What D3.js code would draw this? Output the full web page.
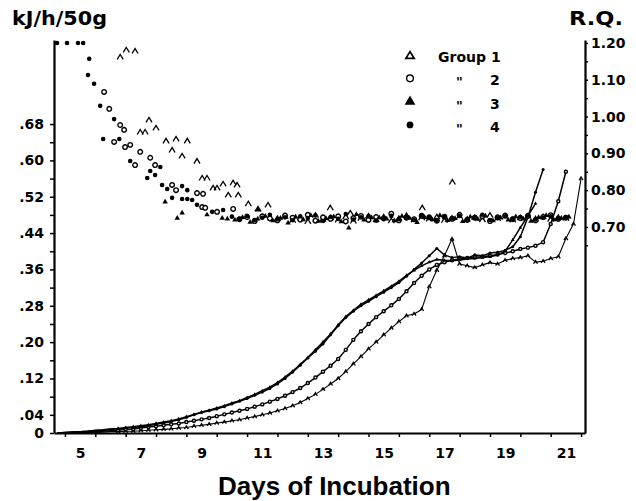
<!DOCTYPE html>
<html>
<head>
<meta charset="utf-8">
<script src="https://cdn.jsdelivr.net/npm/d3@7"></script>
<style>
  body { margin: 0; background: #fff; }
  text { font-family: "DejaVu Sans", sans-serif; font-weight: bold; fill: #000; }
</style>
</head>
<body>
<div id="chart"></div>
<script>
// days of incubation at which heat production was sampled (kJ/h/50g)
const days = [
  4.25, 4.5, 4.75, 5.0, 5.25, 5.5, 5.75, 6.0, 6.25, 6.5,
  6.75, 7.0, 7.25, 7.5, 7.75, 8.0, 8.25, 8.5, 8.75, 9.0,
  9.25, 9.5, 9.75, 10.0, 10.25, 10.5, 10.75, 11.0, 11.25, 11.5,
  11.75, 12.0, 12.25, 12.5, 12.75, 13.0, 13.25, 13.5, 13.75, 14.0,
  14.25, 14.5, 14.75, 15.0, 15.25, 15.5, 15.75, 16.0, 16.25, 16.5,
  16.75, 17.0, 17.25, 17.5, 17.75, 18.0, 18.25, 18.5, 18.75, 19.0,
  19.25, 19.5, 19.75, 20.0, 20.25, 20.5, 20.75, 21.0, 21.25, 21.5
]

const kjGroup1 = [
  0.000, 0.000, 0.001, 0.001, 0.002, 0.001, 0.002, 0.003, 0.003, 0.004,
  0.004, 0.005, 0.006, 0.007, 0.008, 0.009, 0.011, 0.012, 0.015, 0.017,
  0.019, 0.022, 0.024, 0.027, 0.029, 0.033, 0.036, 0.040, 0.044, 0.049,
  0.054, 0.060, 0.067, 0.076, 0.085, 0.096, 0.108, 0.120, 0.135, 0.152,
  0.168, 0.185, 0.200, 0.216, 0.231, 0.245, 0.258, 0.262, 0.272, 0.322,
  0.358, 0.390, 0.427, 0.372, 0.368, 0.364, 0.370, 0.375, 0.372, 0.380,
  0.384, 0.386, 0.390, 0.376, 0.378, 0.384, 0.388, 0.428, 0.460, 0.560
]
const kjGroup2 = [
  0.000, 0.000, 0.001, 0.002, 0.002, 0.003, 0.004, 0.005, 0.006, 0.008,
  0.009, 0.011, 0.013, 0.015, 0.017, 0.019, 0.021, 0.024, 0.027, 0.030,
  0.033, 0.037, 0.041, 0.045, 0.049, 0.053, 0.058, 0.063, 0.069, 0.075,
  0.082, 0.090, 0.099, 0.110, 0.122, 0.135, 0.148, 0.163, 0.183, 0.205,
  0.224, 0.240, 0.255, 0.268, 0.281, 0.295, 0.312, 0.330, 0.346, 0.360,
  0.370, 0.376, 0.380, 0.383, 0.385, 0.387, 0.388, 0.390, 0.393, 0.396,
  0.400, 0.405, 0.408, 0.412, 0.420, 0.460, 0.510, 0.575, null, null
]
const kjGroup3 = [
  0.000, 0.001, 0.002, 0.003, 0.004, 0.006, 0.007, 0.009, 0.010, 0.012,
  0.014, 0.016, 0.018, 0.021, 0.024, 0.027, 0.031, 0.036, 0.041, 0.046,
  0.050, 0.055, 0.060, 0.066, 0.071, 0.078, 0.085, 0.093, 0.101, 0.111,
  0.123, 0.136, 0.151, 0.166, 0.183, 0.200, 0.218, 0.238, 0.256, 0.270,
  0.283, 0.293, 0.303, 0.313, 0.323, 0.334, 0.347, 0.358, 0.368, 0.376,
  0.382, 0.380, 0.379, 0.381, 0.383, 0.384, 0.386, 0.388, 0.392, 0.400,
  0.425, 0.452, 0.478, 0.505, null, null, null, null, null, null
]
const kjGroup4 = [
  0.000, 0.001, 0.002, 0.003, 0.004, 0.005, 0.006, 0.008, 0.009, 0.011,
  0.012, 0.014, 0.016, 0.019, 0.022, 0.025, 0.029, 0.034, 0.040, 0.045,
  0.049, 0.053, 0.058, 0.064, 0.070, 0.076, 0.083, 0.090, 0.098, 0.108,
  0.120, 0.134, 0.149, 0.165, 0.180, 0.196, 0.216, 0.236, 0.254, 0.268,
  0.280, 0.290, 0.300, 0.310, 0.320, 0.331, 0.345, 0.360, 0.374, 0.390,
  0.406, 0.392, 0.386, 0.388, 0.385, 0.392, 0.390, 0.396, 0.398, 0.402,
  0.410, 0.432, 0.475, 0.530, 0.580, null, null, null, null, null
]

// R.Q. points before the plateau, [day, R.Q.]
const rqEarly1 = [
  [6.32, 1.162], [6.52, 1.181], [6.81, 1.178], [6.98, 0.958], [7.14, 0.958], [7.27, 0.991],
  [7.50, 0.969], [7.83, 0.934], [8.03, 0.909], [8.16, 0.939], [8.36, 0.893], [8.53, 0.934],
  [8.85, 0.879], [9.02, 0.833], [9.18, 0.833], [9.38, 0.806], [9.51, 0.806], [9.71, 0.817],
  [9.88, 0.787], [10.04, 0.820], [10.17, 0.814], [10.21, 0.787], [10.54, 0.763], [10.86, 0.749],
  [11.19, 0.760], [13.24, 0.752], [13.90, 0.738], [16.27, 0.752], [17.26, 0.822]
]
const rqEarly2 = [
  [5.79, 1.067], [5.96, 1.021], [6.12, 0.931], [6.32, 0.977], [6.45, 0.964], [6.48, 0.917],
  [6.65, 0.923], [6.81, 0.868], [6.98, 0.904], [7.31, 0.888], [7.47, 0.868], [8.03, 0.814],
  [8.16, 0.800], [8.85, 0.792], [9.05, 0.790], [9.02, 0.754], [9.12, 0.752], [9.51, 0.741],
  [10.04, 0.749]
]
const rqEarly3 = [
  [7.80, 0.768], [8.20, 0.724], [8.36, 0.738], [9.18, 0.733], [9.68, 0.724], [9.85, 0.722],
  [10.86, 0.746]
]
const rqEarly4 = [
  [4.24, 1.20], [4.57, 1.20], [4.93, 1.20], [5.10, 1.20], [5.26, 1.113], [5.30, 1.157],
  [5.46, 1.089], [5.66, 1.029], [5.76, 0.939], [6.12, 0.993], [6.29, 0.939], [6.65, 0.879],
  [7.21, 0.833], [7.31, 0.852], [7.47, 0.841], [7.64, 0.863], [7.70, 0.814], [7.87, 0.803],
  [8.03, 0.779], [8.36, 0.811], [8.36, 0.776], [8.53, 0.800], [8.53, 0.776], [8.69, 0.773],
  [8.85, 0.760], [9.35, 0.741], [9.71, 0.746]
]

// R.Q. plateau, one reading every 6 h from the start day of each group
const bandStart = [11.5, 10.25, 10.1, 10.0]
const bandStep = 0.25
const rqBand1 = [
  0.723, 0.729, 0.718, 0.726, 0.715, 0.732, 0.721, 0.725, 0.719, 0.728,
  0.716, 0.724, 0.730, 0.720, 0.727, 0.717, 0.723, 0.731, 0.719, 0.725,
  0.722, 0.728, 0.718, 0.724, 0.729, 0.721, 0.726, 0.720, 0.732, 0.723,
  0.727, 0.719, 0.725, 0.730, 0.722, 0.728, 0.721, 0.726, 0.724
]
const rqBand2 = [
  0.721, 0.727, 0.716, 0.729, 0.723, 0.718, 0.731, 0.725, 0.720, 0.733,
  0.717, 0.726, 0.722, 0.729, 0.715, 0.724, 0.730, 0.719, 0.727, 0.723,
  0.736, 0.718, 0.725, 0.721, 0.730, 0.726, 0.717, 0.728, 0.722, 0.733,
  0.719, 0.725, 0.729, 0.716, 0.726, 0.731, 0.721, 0.724, 0.730, 0.718,
  0.727, 0.732, 0.722, 0.725
]
const rqBand3 = [
  0.719, 0.726, 0.713, 0.722, 0.729, 0.717, 0.724, 0.711, 0.727, 0.720,
  0.731, 0.716, 0.723, 0.728, 0.714, 0.697, 0.734, 0.719, 0.725, 0.725,
  0.722, 0.717, 0.729, 0.724, 0.712, 0.726, 0.720, 0.731, 0.718, 0.723,
  0.715, 0.727, 0.721, 0.730, 0.717, 0.725, 0.719, 0.728, 0.722, 0.716,
  0.726, 0.731, 0.720, 0.724, 0.727
]
const rqBand4 = [
  0.728, 0.722, 0.730, 0.719, 0.725, 0.733, 0.721, 0.726, 0.718, 0.729,
  0.724, 0.731, 0.716, 0.727, 0.722, 0.735, 0.720, 0.726, 0.729, 0.717,
  0.724, 0.730, 0.721, 0.727, 0.719, 0.732, 0.725, 0.718, 0.728, 0.723,
  0.730, 0.720, 0.726, 0.733, 0.719, 0.724, 0.729, 0.722, 0.727, 0.731,
  0.720, 0.725, 0.729, 0.723, 0.726
]

// axis ticks
const kjTicks = [0, 0.04, 0.08, 0.12, 0.16, 0.20, 0.24, 0.28, 0.32, 0.36, 0.40, 0.44, 0.48, 0.52, 0.56, 0.60, 0.64, 0.68]
const kjTickLabels = ["0", ".04", "", ".12", "", ".20", "", ".28", "", ".36", "", ".44", "", ".52", "", ".60", "", ".68"]
const rqTicks = [0.65, 0.70, 0.75, 0.80, 0.85, 0.90, 0.95, 1.00, 1.05, 1.10, 1.15, 1.20]
const rqTickLabels = ["", "0.70", "", "0.80", "", "0.90", "", "1.00", "", "1.10", "", "1.20"]
const dayTicks = [4.5, 5.5, 6.5, 7.5, 8.5, 9.5, 10.5, 11.5, 12.5, 13.5, 14.5, 15.5, 16.5, 17.5, 18.5, 19.5, 20.5, 21.5]
const dayLabels = [5, 7, 9, 11, 13, 15, 17, 19, 21]

const groupNames = ["Group 1", "2", "3", "4"]

const width = 636
const height = 501

const svg = d3.select("#chart")
  .append("svg")
  .attr("width", width)
  .attr("height", height)

const x = d3.scaleLinear().domain([4.14, 21.63]).range([54, 585])
const yKj = d3.scaleLinear().domain([0, 0.865]).range([433, 40])
const yRq = d3.scaleLinear().domain([0.14, 1.208]).range([433, 40])

// marker drawing, one per group: open triangle, open circle, filled triangle, filled circle
function addMarker(sel, g, size, closed) {
  if (g === 0) {
    const w = size * 0.55, h = size * 0.45
    sel.append("path")
      .attr("d", `M${-w},${h}L0,${-h}L${w},${h}` + (closed ? "Z" : ""))
      .attr("fill", "none").attr("stroke", "#000").attr("stroke-width", closed ? 1.8 : 1.3)
  } else if (g === 1) {
    sel.append("circle").attr("r", size * 0.45)
      .attr("fill", "#fff").attr("stroke", "#000").attr("stroke-width", 1.4)
  } else if (g === 2) {
    sel.append("path")
      .attr("d", d3.symbol(d3.symbolTriangle, size * size * 0.5)())
      .attr("fill", "#000")
  } else {
    sel.append("circle").attr("r", size * 0.45).attr("fill", "#000")
  }
}

// heat production lines
const kjSeries = [kjGroup1, kjGroup2, kjGroup3, kjGroup4]
const line = d3.line()
  .defined(d => d[1] !== null)
  .x(d => x(d[0]))
  .y(d => yKj(d[1]))

kjSeries.forEach((vals, g) => {
  const pts = days.map((d, i) => [d, vals[i]])
  svg.append("path")
    .datum(pts)
    .attr("fill", "none")
    .attr("stroke", "#000")
    .attr("stroke-width", g === 0 ? 1.1 : 1.5)
    .attr("stroke-linejoin", "round")
    .attr("d", line)

  svg.append("g")
    .selectAll("g")
    .data(pts.filter(p => p[1] !== null && p[0] > 6))
    .enter()
    .append("g")
    .attr("transform", p => `translate(${x(p[0])},${yKj(p[1])})`)
    .each(function () { addMarker(d3.select(this), g, g === 0 ? 3.5 : 3.4) })
})

// R.Q. scatter
const rqEarly = [rqEarly1, rqEarly2, rqEarly3, rqEarly4]
const rqBand = [rqBand1, rqBand2, rqBand3, rqBand4]

rqEarly.forEach((early, g) => {
  const pts = early.concat(rqBand[g].map((v, i) => [bandStart[g] + i * bandStep, v]))
  svg.append("g")
    .selectAll("g")
    .data(pts)
    .enter()
    .append("g")
    .attr("transform", p => `translate(${x(p[0])},${yRq(p[1])})`)
    .each(function () { addMarker(d3.select(this), g, g === 0 ? 5.5 : 5.1) })
})

// axes
function styleAxis(g) {
  g.attr("font-family", "DejaVu Sans").attr("font-size", 14).attr("font-weight", "bold")
  g.select(".domain").attr("stroke-width", 2.2)
  g.selectAll(".tick line").attr("stroke-width", 1.5)
}

svg.append("g")
  .attr("transform", "translate(54,0)")
  .call(d3.axisLeft(yKj).tickValues(kjTicks).tickSize(4).tickSizeOuter(0).tickPadding(6)
    .tickFormat((d, i) => kjTickLabels[i]))
  .call(styleAxis)

svg.append("g")
  .attr("transform", "translate(585,0)")
  .call(d3.axisRight(yRq).tickValues(rqTicks).tickSize(3).tickSizeOuter(0).tickPadding(3)
    .tickFormat((d, i) => rqTickLabels[i]))
  .call(styleAxis)

svg.append("g")
  .attr("transform", "translate(0,433)")
  .call(d3.axisBottom(x).tickValues(dayTicks).tickSize(4).tickSizeOuter(0).tickFormat(""))
  .call(styleAxis)

svg.append("g")
  .attr("transform", "translate(0,433)")
  .call(d3.axisBottom(x).tickValues(dayLabels).tickSize(0).tickPadding(15))
  .call(styleAxis)
  .call(g => g.select(".domain").remove())

// titles
svg.append("text")
  .attr("x", 12).attr("y", 25)
  .attr("font-size", 19)
  .attr("textLength", 95).attr("lengthAdjust", "spacingAndGlyphs")
  .text("kJ/h/50g")

svg.append("text")
  .attr("x", 569).attr("y", 25)
  .attr("font-size", 19)
  .attr("textLength", 54).attr("lengthAdjust", "spacingAndGlyphs")
  .text("R.Q.")

svg.append("text")
  .attr("x", 218).attr("y", 495)
  .style("font-family", "'Liberation Sans', Arial, sans-serif")
  .attr("font-size", 26)
  .text("Days of Incubation")

// legend
const legend = svg.append("g")
groupNames.forEach((name, g) => {
  const cy = 55 + g * 23.3
  const m = legend.append("g").attr("transform", `translate(410,${cy})`)
  addMarker(m, g, g === 2 ? 10 : 7.5, true)
  if (g === 0) {
    legend.append("text").attr("x", 438).attr("y", cy + 7).attr("font-size", 14).text(name)
  } else {
    legend.append("text").attr("x", 456).attr("y", cy + 8).attr("font-size", 13).text("\"")
    legend.append("text").attr("x", 490).attr("y", cy + 7).attr("font-size", 14).text(name)
  }
})
</script>
</body>
</html>
